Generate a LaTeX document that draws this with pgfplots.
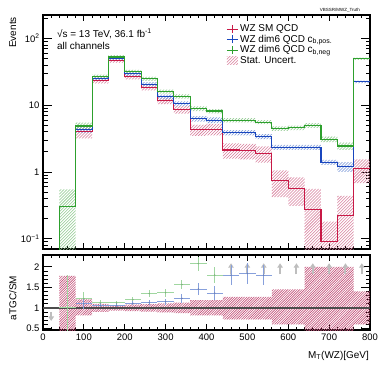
\documentclass[border=0pt]{standalone}
\usepackage{fontspec}
\setmainfont{Liberation Sans}
\usepackage{pgfplots}
\usepackage{pgfplotstable}
\pgfplotsset{compat=1.18}
\usetikzlibrary{patterns,arrows.meta}
\definecolor{smred}{RGB}{200,25,70}
\definecolor{smredh}{RGB}{215,125,155}
\definecolor{ratioh}{RGB}{195,80,120}
\definecolor{pblue}{RGB}{25,70,190}
\definecolor{pblueh}{RGB}{120,150,215}
\definecolor{ngreen}{RGB}{45,160,45}
\definecolor{ngreenh}{RGB}{140,200,140}
\definecolor{rgreen}{RGB}{160,215,160}
\definecolor{rblue}{RGB}{135,160,220}
\definecolor{arrgray}{RGB}{190,190,190}

% coloured hatch patterns
\pgfdeclarepatterninherentlycolored{hatchred}{\pgfqpoint{-1pt}{-1pt}}{\pgfqpoint{4pt}{4pt}}{\pgfqpoint{3pt}{3pt}}%
{\pgfsetstrokecolor{smredh}\pgfsetlinewidth{0.55pt}\pgfpathmoveto{\pgfqpoint{0pt}{0pt}}\pgfpathlineto{\pgfqpoint{3.1pt}{3.1pt}}\pgfusepath{stroke}}
\pgfdeclarepatterninherentlycolored{hatchblue}{\pgfqpoint{-1pt}{-1pt}}{\pgfqpoint{4pt}{4pt}}{\pgfqpoint{3pt}{3pt}}%
{\pgfsetstrokecolor{pblueh}\pgfsetlinewidth{0.55pt}\pgfpathmoveto{\pgfqpoint{0pt}{0pt}}\pgfpathlineto{\pgfqpoint{3.1pt}{3.1pt}}\pgfusepath{stroke}}
\pgfdeclarepatterninherentlycolored{hatchgreen}{\pgfqpoint{-1pt}{-1pt}}{\pgfqpoint{4pt}{4pt}}{\pgfqpoint{3pt}{3pt}}%
{\pgfsetstrokecolor{ngreenh}\pgfsetlinewidth{0.55pt}\pgfpathmoveto{\pgfqpoint{0pt}{0pt}}\pgfpathlineto{\pgfqpoint{3.1pt}{3.1pt}}\pgfusepath{stroke}}
\pgfdeclarepatterninherentlycolored{hatchratio}{\pgfqpoint{-1pt}{-1pt}}{\pgfqpoint{4pt}{4pt}}{\pgfqpoint{2.4pt}{2.4pt}}%
{\pgfsetstrokecolor{ratioh}\pgfsetlinewidth{0.6pt}\pgfpathmoveto{\pgfqpoint{0pt}{0pt}}\pgfpathlineto{\pgfqpoint{2.5pt}{2.5pt}}\pgfusepath{stroke}}

% bin low edge and content (last row closes the 760-800 bin)
\pgfplotstableread{
x y
0 0.01
40 0.3
80 4.0
120 23.9
160 47
200 26.8
240 18.4
280 11.7
320 8.6
360 4.27
400 4.4
440 2.14
480 2.1
520 1.9
560 0.74
600 0.57
640 0.276
680 0.092
720 0.22
760 1.13
800 1.13
}\tabred
\pgfplotstableread{
x y
0 0.01
40 0.3
80 4.4
120 25.2
160 50
200 29.6
240 20.8
280 13.4
320 10.6
360 6.3
400 6.0
440 3.9
480 3.9
520 3.4
560 2.35
600 2.35
640 2.35
680 1.4
720 1.2
760 22.5
800 22.5
}\tabblue
\pgfplotstableread{
x y
0 0.01
40 0.3
80 4.9
120 26.8
160 53
200 32
240 25
280 16.1
320 13.6
360 8.9
400 8.2
440 6.0
480 6.0
520 5.6
560 4.5
600 4.6
640 5.0
680 3.1
720 2.45
760 50
800 50
}\tabgreen
\pgfplotstableread{
x y ex ey
60 1.00 20 0.80
100 1.22 20 0.17
140 1.12 20 0.07
180 1.12 20 0.05
220 1.20 20 0.07
260 1.35 20 0.08
300 1.37 20 0.10
340 1.57 20 0.12
380 2.08 20 0.17
420 1.80 20 0.20
}\ratgreen
\pgfplotstableread{
x y ex ey
100 1.10 20 0.12
140 1.06 20 0.05
180 1.06 20 0.05
220 1.11 20 0.05
260 1.13 20 0.06
300 1.15 20 0.07
340 1.23 20 0.10
380 1.46 20 0.14
420 1.36 20 0.17
460 1.80 20 0.25
500 1.84 20 0.25
540 1.80 20 0.25
}\ratblue
\pgfplotstableread{
x y v
20 0.90 -0.22
460 1.82 0.27
500 1.82 0.27
540 1.82 0.27
580 1.82 0.27
620 1.82 0.27
660 1.82 0.27
700 1.82 0.27
740 1.82 0.27
780 1.82 0.27
}\ratarrows

\begin{document}
\begin{tikzpicture}
\path[use as bounding box] (0bp,0bp) rectangle (380bp,-367bp);
\pgfplotsset{
  hepstyle/.style={
    scale only axis, width=327bp,
    xmin=0, xmax=800,
    tick align=inside,
    xtick pos=both, ytick pos=both,
    axis line style={line width=1.2bp},
    every tick/.style={black, line width=0.9bp},
    major tick length=9bp, minor tick length=4.5bp,
    xtick style={/pgfplots/major tick length=6bp, /pgfplots/minor tick length=3bp},
    xtick={0,100,...,800}, minor x tick num=4,
    tick label style={font=\fontsize{9.5}{11}\selectfont},
  }
}
\begin{axis}[hepstyle,
  at={(43bp,-15bp)}, anchor=north west, height=234bp,
  ymode=log, ymin=0.07, ymax=226,
  xticklabels={},
  ytick={0.1,1,10,100},
  yticklabels={10\textsuperscript{−1},1,10,10\textsuperscript{2}},
  minor ytick={0.08,0.09,0.2,0.3,0.4,0.5,0.6,0.7,0.8,0.9,2,3,4,5,6,7,8,9,20,30,40,50,60,70,80,90,200},
  legend cell align=left,
  legend style={at={(axis description cs:0.56,0.965)}, anchor=north west, draw=none, fill=none,
    font=\fontsize{10}{11}\selectfont, row sep=-1.2bp, inner sep=0pt,
    nodes={inner ysep=1.5pt}},
  legend image code/.code={\draw[#1, line width=0.9bp] (0bp,0bp) -- (11bp,0bp);
     \draw[#1, line width=0.9bp] (5.5bp,-4bp) -- (5.5bp,4bp);},
]
\addlegendimage{smred}\addlegendentry{WZ SM QCD}
\addlegendimage{pblue}\addlegendentry{WZ dim6 QCD c\textsubscript{b,pos.}}
\addlegendimage{ngreen}\addlegendentry{WZ dim6 QCD c\textsubscript{b,neg}}
\addlegendimage{legend image code/.code={\fill[pattern=hatchred, draw=none] (0bp,-4bp) rectangle (11bp,4bp);}}
\addlegendentry{Stat. Uncert.}

% statistical uncertainty bands (upper edge forward, lower edge back)
\addplot[forget plot, draw=none, pattern=hatchred] coordinates {
(80,4.8)(120,4.8)(120,26.4)(160,26.4)(160,50.5)(200,50.5)(200,29.1)(240,29.1)(240,20.1)(280,20.1)(280,13.0)(320,13.0)(320,9.7)(360,9.7)(360,5.07)(400,5.07)(400,5.25)(440,5.25)(440,2.69)(480,2.69)(480,2.65)(520,2.65)(520,2.42)(560,2.42)(560,1.06)(600,1.06)(600,0.83)(640,0.83)(640,0.56)(680,0.56)(680,0.18)(720,0.18)(720,0.44)(760,0.44)(760,1.55)(800,1.55)
(800,0.68)(760,0.68)(760,0.03)(640,0.03)(640,0.31)(600,0.31)(600,0.42)(560,0.42)(560,1.38)(520,1.38)(520,1.55)(480,1.55)(480,1.59)(440,1.59)(440,3.55)(400,3.55)(400,3.47)(360,3.47)(360,7.5)(320,7.5)(320,10.4)(280,10.4)(280,16.7)(240,16.7)(240,24.5)(200,24.5)(200,43.5)(160,43.5)(160,21.4)(120,21.4)(120,3.2)(80,3.2)};
\addplot[forget plot, draw=none, pattern=hatchblue] coordinates {
(80,4.95)(120,4.95)(120,27.2)(160,27.2)(160,53)(200,53)(200,31.6)(240,31.6)(240,22.3)(280,22.3)(280,14.4)(320,14.4)(320,11.5)(360,11.5)(360,6.9)(400,6.9)(400,6.6)(440,6.6)(440,4.25)(520,4.25)(520,3.7)(560,3.7)(560,2.55)(680,2.55)(680,1.52)(720,1.52)(720,1.4)(760,1.4)(760,23.5)(800,23.5)
(800,21.5)(760,21.5)(760,1.0)(720,1.0)(720,1.28)(680,1.28)(680,2.15)(560,2.15)(560,3.1)(520,3.1)(520,3.55)(440,3.55)(440,5.4)(400,5.4)(400,5.7)(360,5.7)(360,9.7)(320,9.7)(320,12.4)(280,12.4)(280,19.3)(240,19.3)(240,27.6)(200,27.6)(200,47)(160,47)(160,23.2)(120,23.2)(120,3.85)(80,3.85)};
\addplot[forget plot, draw=none, pattern=hatchgreen] coordinates {
(40,0.55)(80,0.55)(80,5.5)(120,5.5)(120,28.8)(160,28.8)(160,56.5)(200,56.5)(200,34)(240,34)(240,26.7)(280,26.7)(280,17.2)(320,17.2)(320,14.6)(360,14.6)(360,9.6)(400,9.6)(400,8.8)(440,8.8)(440,6.45)(520,6.45)(520,6.0)(560,6.0)(560,4.85)(600,4.85)(600,4.95)(640,4.95)(640,5.4)(680,5.4)(680,3.4)(720,3.4)(720,2.75)(760,2.75)(760,52)(800,52)
(800,48)(760,48)(760,2.15)(720,2.15)(720,2.8)(680,2.8)(680,4.6)(640,4.6)(640,4.25)(600,4.25)(600,4.15)(560,4.15)(560,5.2)(520,5.2)(520,5.55)(440,5.55)(440,7.6)(400,7.6)(400,8.2)(360,8.2)(360,12.6)(320,12.6)(320,15.0)(280,15.0)(280,23.3)(240,23.3)(240,30)(200,30)(200,49.5)(160,49.5)(160,24.8)(120,24.8)(120,4.3)(80,4.3)(80,0.03)(40,0.03)};
% histograms
\addplot[forget plot, const plot, smred, line width=1.1bp] table[x=x,y=y]{\tabred};
\addplot[forget plot, const plot, pblue, line width=1.1bp] table[x=x,y=y]{\tabblue};
\addplot[forget plot, const plot, ngreen, line width=1.1bp] table[x=x,y=y]{\tabgreen};
\end{axis}

\begin{axis}[hepstyle,
  at={(43bp,-255bp)}, anchor=north west, height=75bp,
  ymin=0.46, ymax=2.29,
  xticklabels={0,100,200,300,400,500,600,700,800},
  ytick={0.5,1,1.5,2}, yticklabels={0.5,1,1.5,2},
  minor y tick num=4,
]
\addplot[draw=none, pattern=hatchratio] coordinates {
(40,1.78)(80,1.78)(80,1.21)(120,1.21)(120,1.10)(160,1.10)(160,1.07)(200,1.07)(200,1.08)(240,1.08)(240,1.09)(280,1.09)(280,1.11)(320,1.11)(320,1.13)(360,1.13)(360,1.19)(440,1.19)(440,1.27)(560,1.27)(560,1.45)(640,1.45)(640,2.0)(760,2.0)(760,1.4)(800,1.4)
(800,0.6)(760,0.6)(760,0.4)(640,0.4)(640,0.6)(560,0.6)(560,0.72)(440,0.72)(440,0.82)(360,0.82)(360,0.87)(320,0.87)(320,0.89)(280,0.89)(280,0.91)(240,0.91)(240,0.92)(200,0.92)(200,0.93)(160,0.93)(160,0.90)(120,0.90)(120,0.82)(80,0.82)(80,0.4)(40,0.4)};
\addplot[black!70, line width=1.5bp] coordinates {(0,1) (800,1)};
\addplot[arrgray, line width=2bp, -{Triangle[width=5.5bp,length=4.5bp]},
  quiver={u=0, v=\thisrow{v}}] table[x=x,y=y]{\ratarrows};
\addplot[only marks, mark=*, mark size=0.5bp, rgreen!80!black,
  error bars/.cd, x dir=both, x explicit, y dir=both, y explicit,
  error mark=none, error bar style={rgreen, line width=1bp}]
  table[x=x,y=y,x error=ex,y error=ey]{\ratgreen};
\addplot[only marks, mark=*, mark size=0.5bp, rblue!80!black,
  error bars/.cd, x dir=both, x explicit, y dir=both, y explicit,
  error mark=none, error bar style={rblue, line width=1bp}]
  table[x=x,y=y,x error=ex,y error=ey]{\ratblue};
\end{axis}

% texts
\node[rotate=90, anchor=north east, inner sep=0pt, font=\fontsize{10}{12}\selectfont] at (9bp,-17bp) {Events};
\node[rotate=90, anchor=north, inner sep=0pt, font=\fontsize{10}{12}\selectfont] at (9bp,-298bp) {aTGC/SM};
\node[anchor=base east, inner sep=0pt, font=\fontsize{10}{12}\selectfont] at (369bp,-358bp) {M\textsubscript{T}(WZ)[GeV]};
\node[anchor=base west, inner sep=0pt, font=\fontsize{10}{12}\selectfont] at (57bp,-37bp) {√s = 13 TeV, 36.1 fb\textsuperscript{-1}};
\node[anchor=base west, inner sep=0pt, font=\fontsize{10}{12}\selectfont] at (57bp,-49.5bp) {all channels};
\node[anchor=base east, inner sep=0pt, font=\fontsize{4.5}{5}\selectfont] at (360bp,-11bp) {VBSSR/MWZ\_Truth};
\end{tikzpicture}
\end{document}
